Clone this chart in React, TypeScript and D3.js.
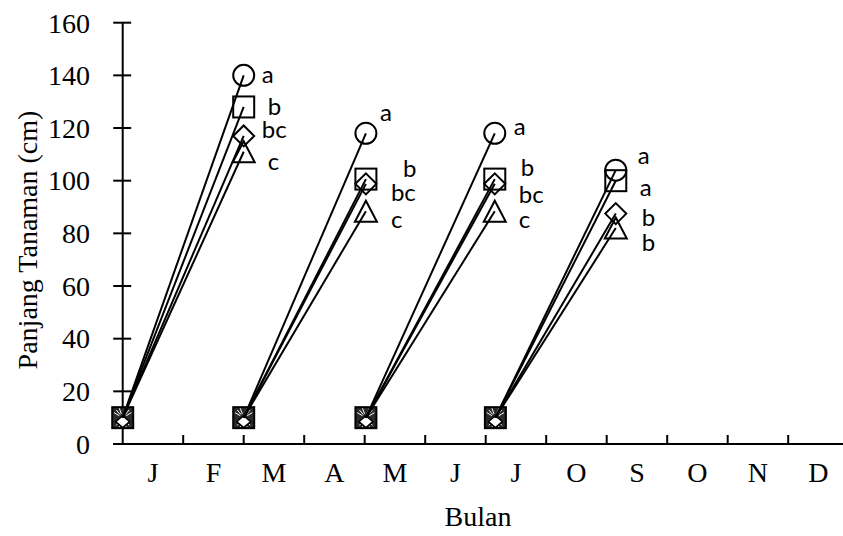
import React from "react";
import * as d3 from "d3";

// ---- data ----
const monthLabels = ["J", "F", "M", "A", "M", "J", "J", "O", "S", "O", "N", "D"];
const yTicks = [0, 20, 40, 60, 80, 100, 120, 140, 160];
// x positions (in month units) of each measurement period
const periodStart = [0, 2, 4.02, 6.16];
const periodEnd = [2, 4.02, 6.15, 8.15];
const startValue = [10, 10, 10, 10];
const seriesNames = ["circle", "square", "diamond", "triangle"];
const circleValues = [140, 118, 118, 104];
const squareValues = [128, 100.6, 100.6, 100];
const diamondValues = [117, 98.8, 98.8, 87.5];
const triangleValues = [111, 88.4, 88.4, 82];
const circleLetters = ["a", "a", "a", "a"];
const squareLetters = ["b", "b", "b", "a"];
const diamondLetters = ["bc", "bc", "bc", "b"];
const triangleLetters = ["c", "c", "c", "b"];

// label placement offsets [dx, dy] in px relative to the end marker (layout only)
const labelOffsets: number[][][] = [
  [[18, -1], [24, 0], [18, -6], [24, 10]],
  [[14, -21], [37, -11], [25, 9], [25, 8]],
  [[19, -7], [26, -12], [24, 11], [24, 8]],
  [[22, -15], [24, 7], [26, 4], [26, 15]],
];

const W = 843;
const H = 536;
const serif = "'Liberation Serif', 'Times New Roman', serif";
const sans = "Lato, 'Open Sans', sans-serif";

function Marker({ kind, cx, cy, fill = "none" }: { kind: string; cx: number; cy: number; fill?: string }) {
  const sw = 2;
  if (kind === "circle") return <circle cx={cx} cy={cy} r={10.5} fill={fill} stroke="#000" strokeWidth={sw} />;
  if (kind === "square")
    return <rect x={cx - 10.5} y={cy - 10.5} width={21} height={21} fill={fill} stroke="#000" strokeWidth={sw} />;
  if (kind === "diamond")
    return (
      <path
        d={`M${cx},${cy - 10.5}L${cx + 10.5},${cy}L${cx},${cy + 10.5}L${cx - 10.5},${cy}Z`}
        fill={fill}
        stroke="#000"
        strokeWidth={sw}
      />
    );
  return (
    <path
      d={`M${cx},${cy - 10.5}L${cx + 11},${cy + 10.5}L${cx - 11},${cy + 10.5}Z`}
      fill={fill}
      stroke="#000"
      strokeWidth={sw}
    />
  );
}

function StartCluster({ cx, cy }: { cx: number; cy: number }) {
  // overlapping start markers of all series (dense look)
  const rays = [-60, -40, -20, 20, 40, 60, 140, 160, 200, 220];
  return (
    <g>
      <rect x={cx - 10.5} y={cy - 10.5} width={21} height={21} fill="#2a2a2a" stroke="#000" strokeWidth={2} />
      {rays.map((a, i) => {
        const r = (a * Math.PI) / 180;
        return (
          <line
            key={i}
            x1={cx + Math.sin(r) * 4}
            y1={cy - Math.cos(r) * 4}
            x2={cx + Math.sin(r) * 10}
            y2={cy - Math.cos(r) * 10}
            stroke="#fff"
            strokeWidth={1}
          />
        );
      })}
      <path
        d={`M${cx},${cy - 2}L${cx + 7},${cy + 4}L${cx},${cy + 10}L${cx - 7},${cy + 4}Z`}
        fill="#fff"
        stroke="#000"
        strokeWidth={1.5}
      />
    </g>
  );
}

export default function App() {
  const x = d3.scaleLinear().domain([0, 12]).range([122.7, 848.7]);
  const y = d3.scaleLinear().domain([0, 160]).range([444, 22.7]);
  const values = [circleValues, squareValues, diamondValues, triangleValues];
  const letters = [circleLetters, squareLetters, diamondLetters, triangleLetters];
  const line = d3
    .line<[number, number]>()
    .x((d) => x(d[0]))
    .y((d) => y(d[1]));

  return (
    <svg width={W} height={H} style={{ position: "absolute", left: 0, top: 0, background: "#fff" }}>
      {/* y axis */}
      <line x1={x(0)} x2={x(0)} y1={y(160)} y2={y(0)} stroke="#000" strokeWidth={2} />
      {yTicks.map((t) => (
        <g key={t}>
          <line x1={x(0) - 9.5} x2={x(0) + 8.5} y1={y(t)} y2={y(t)} stroke="#000" strokeWidth={2} />
          <text x={90} y={y(t)} dy="0.35em" textAnchor="end" fontFamily={serif} fontSize={28}>
            {t}
          </text>
        </g>
      ))}
      {/* x axis */}
      <line x1={x(0) - 9.5} x2={x(12)} y1={y(0)} y2={y(0)} stroke="#000" strokeWidth={2} />
      {d3.range(1, 13).map((k) => (
        <line key={k} x1={x(k)} x2={x(k)} y1={y(0)} y2={y(0) - 9} stroke="#000" strokeWidth={2} />
      ))}
      {monthLabels.map((m, i) => (
        <text key={i} x={x(i + 0.5)} y={482} textAnchor="middle" fontFamily={serif} fontSize={28}>
          {m}
        </text>
      ))}
      <text x={478} y={526} textAnchor="middle" fontFamily={serif} fontSize={28}>
        Bulan
      </text>
      <text transform="translate(37,240) rotate(-90)" textAnchor="middle" fontFamily={serif} fontSize={28}>
        Panjang Tanaman (cm)
      </text>

      {/* start markers (overlapping) */}
      {periodStart.map((s, g) => (
        <StartCluster key={`s${g}`} cx={x(s)} cy={y(startValue[g])} />
      ))}

      {/* lines */}
      {periodStart.map((s, g) =>
        values.map((vals, si) => (
          <path
            key={`l${g}-${si}`}
            d={line([
              [s, startValue[g]],
              [periodEnd[g], vals[g]],
            ]) as string}
            fill="none"
            stroke="#000"
            strokeWidth={2}
          />
        ))
      )}

      {/* end markers + letters */}
      {periodEnd.map((e, g) =>
        values.map((vals, si) => {
          const cx = x(e);
          const cy = y(vals[g]);
          const [dx, dy] = labelOffsets[g][si];
          return (
            <g key={`m${g}-${si}`}>
              <Marker kind={seriesNames[si]} cx={cx} cy={cy} />
              <text x={cx + dx} y={cy + dy} dy="0.35em" fontFamily={sans} fontSize={24}>
                {letters[si][g]}
              </text>
            </g>
          );
        })
      )}
    </svg>
  );
}
